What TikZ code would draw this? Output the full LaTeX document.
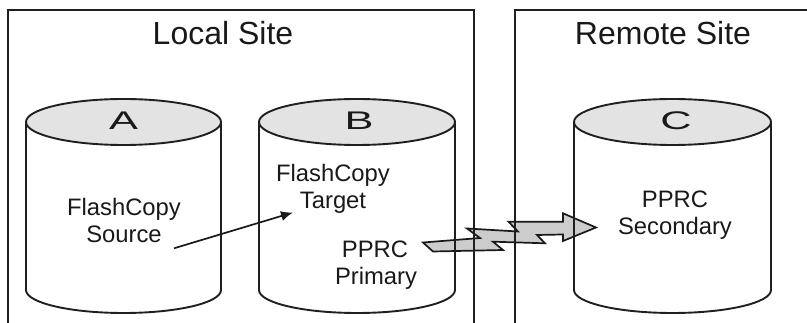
\documentclass[tikz,border=0pt]{standalone}
\usepackage{fontspec}
\usepackage{graphicx}
\setmainfont{Liberation Sans}
\usetikzlibrary{arrows.meta}
\newcommand\mycyl[2]{%
  \fill[topfill] (#1,-122) ellipse [x radius=#2, y radius=23];
  \draw[cylline] (#1,-122) ellipse [x radius=#2, y radius=23];
  \draw[cylline] (#1-#2,-122) -- (#1-#2,-290)
    arc [start angle=180, end angle=360, x radius=#2, y radius=23]
    -- (#1+#2,-122);
}
\begin{document}
\begin{tikzpicture}[x=1pt,y=1pt,
  boxline/.style={draw=black!88, line width=1.5pt},
  cylline/.style={draw=black!88, line width=1.9pt},
  topfill/.style={fill=black!11},
  bigtitle/.style={font=\fontsize{32}{37}\selectfont, text=black!90, inner sep=0pt, anchor=base},
  lbl/.style={font=\fontsize{23.8}{28}\selectfont, text=black!90, inner sep=0pt, anchor=base},
  letter/.style={font=\fontsize{25.5}{30}\selectfont, text=black!90, inner sep=0pt, anchor=base},
  boltstyle/.style={fill=black!20, draw=black!90, line width=1.7pt, line join=miter},
  copyarrow/.style={draw=black!90, line width=1.7pt, -{Latex[length=12pt,width=10pt]}}
]
\useasboundingbox (0,0) rectangle (807,-323);

% lightning arrow (drawn first, lines pass over it)
\draw[boltstyle] (423,-242.5) -- (480,-238) -- (467,-228.5) -- (518,-231.5)
  -- (508.5,-221.7) -- (563,-221.7) -- (563,-213.3) -- (596,-227.5)
  -- (563,-241) -- (563,-234.5) -- (537,-235) -- (545,-243.3)
  -- (493,-241.7) -- (503,-250) -- (433,-251.5) -- cycle;

% site boxes
\draw[boxline] (8,-323) -- (8,-10) -- (474,-10) -- (474,-323);
\draw[boxline] (515,-323) -- (515,-10) -- (807,-10);
\node[bigtitle] (local) at (223,-45) {Local Site};
\node[bigtitle] (remote) at (663,-45) {Remote Site};

% cylinders
\mycyl{123.5}{97.5}
\mycyl{357}{98}
\mycyl{672.5}{98.5}
\node[letter] (A) at (123.5,-130) {\scalebox{1.7}[1]{A}};
\node[letter] (B) at (359,-130) {\scalebox{1.7}[1]{B}};
\node[letter] (C) at (676,-130) {\scalebox{1.7}[1]{C}};

% labels
\node[lbl] (src1) at (124,-216) {FlashCopy};
\node[lbl] (src2) at (124,-243) {Source};
\node[lbl] (tgt1) at (333,-182) {FlashCopy};
\node[lbl] (tgt2) at (333,-208.5) {Target};
\node[lbl] (pri1) at (375,-258) {PPRC};
\node[lbl] (pri2) at (376,-285) {Primary};
\node[lbl] (sec1) at (675,-208) {PPRC};
\node[lbl] (sec2) at (675,-235) {Secondary};

% FlashCopy arrow
\coordinate (fcfrom) at (174,-248.3);
\coordinate (fcto) at (293,-212.5);
\draw[copyarrow] (fcfrom) -- (fcto);
\end{tikzpicture}
\end{document}
